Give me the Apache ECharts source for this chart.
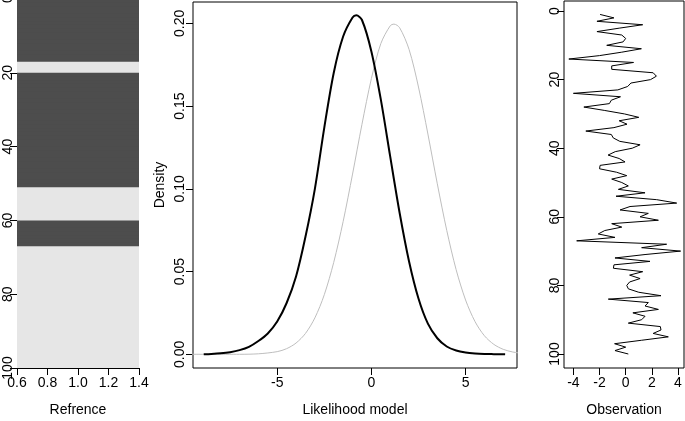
<!DOCTYPE html>
<html>
<head>
<meta charset="utf-8">
<script src="https://cdn.jsdelivr.net/npm/echarts@6/dist/echarts.min.js"></script>
<style>
html,body{margin:0;padding:0;background:#fff;}
#chart{width:685px;height:421px;}
</style>
</head>
<body>
<div id="chart"></div>
<script>
// ---- Panel 1: reference states (1 = dark, 0 = light), rows 1..100
const refStates = [
1,1,1,1,1,1,1,1,1,1,1,1,1,1,1,1,1,
0,0,0,
1,1,1,1,1,1,1,1,1,1,1,1,1,1,1,1,1,1,1,1,1,1,1,1,1,1,1,1,1,1,1,
0,0,0,0,0,0,0,0,0,
1,1,1,1,1,1,1,
0,0,0,0,0,0,0,0,0,0,0,0,0,0,0,0,0,0,0,0,0,0,0,0,0,0,0,0,0,0,0,0,0
];
const refColors = ['#E6E6E6', '#4D4D4D'];

// ---- Panel 2: density curves (likelihood model)
const blackX = [-8.9,-8.5,-8,-7.5,-7,-6.5,-6,-5.5,-5,-4.5,-4,-3.5,-3,-2.5,-2,-1.5,-1,-0.8,-0.5,0,0.5,1,1.5,2,2.5,3,3.5,4,4.5,5,5.5,6,6.5,7.1];
const blackY = [0.0000,0.0002,0.0006,0.0013,0.0025,0.0045,0.0080,0.0126,0.0198,0.0310,0.0470,0.0710,0.1000,0.1370,0.1700,0.1920,0.2035,0.2048,0.2020,0.1830,0.1540,0.1194,0.0854,0.0561,0.0337,0.0185,0.0097,0.0047,0.0023,0.0011,0.0005,0.0002,0.0001,0.0000];
const grayX = [-9.6,-7,-6,-5,-4.5,-4,-3.5,-3,-2.5,-2,-1.5,-1,-0.5,0,0.5,1,1.2,1.5,2,2.5,3,3.5,4,4.5,5,5.5,6,6.5,7,7.5,8];
const grayY = [0.0000,0.0000,0.0003,0.0016,0.0034,0.0068,0.0126,0.0220,0.0360,0.0555,0.0802,0.1089,0.1390,0.1666,0.1877,0.1985,0.1995,0.1973,0.1842,0.1615,0.1331,0.1030,0.0749,0.0511,0.0328,0.0198,0.0112,0.0060,0.0030,0.0014,0.0006];
const densityTicks = [0, 0.05, 0.10, 0.15, 0.20];
const likelihoodTicks = [-5, 0, 5];

// ---- Panel 3: observations, rows 1..100
const obsValues = [
-1.96,-0.9,-2.2,1.3,-0.5,-2.2,-0.3,0.0,-0.2,-1.45,
1.2,-0.3,-2.0,-4.35,0.6,-1.07,-1.07,2.1,2.35,1.9,
0.4,0.15,-0.6,-4.0,-0.4,-1.1,-1.25,-3.2,-1.6,-0.1,
1.0,-0.5,0.1,-0.9,-3.05,-1.1,-0.95,-0.45,1.1,0.5,
-0.8,-1.35,-0.5,-0.05,-1.96,-2.0,-0.7,0.08,-1.07,-0.3,
0.2,-0.56,1.48,-0.74,2.37,3.9,0.33,-0.43,1.73,1.1,
2.5,-1.07,-0.3,-1.6,-2.1,-0.82,-3.75,3.13,1.22,4.2,
1.48,-0.82,1.86,-0.9,-0.94,1.3,0.3,1.1,0.3,0.08,
0.2,1.0,2.7,-1.33,1.73,1.48,2.5,0.55,1.48,1.22,
0.2,2.65,2.7,2.1,3.26,1.2,-0.85,0.0,-0.82,0.2
];
const obsTicksX = [-4, -2, 0, 2, 4];
const obsTicksY = [0, 20, 40, 60, 80, 100];

// ---- build
const FONT = 'Liberation Sans, Arial, Helvetica, sans-serif';
const txt = {color: '#000', fontFamily: FONT, fontSize: 14};
const lineStyle = {color: '#000', width: 1};
const tick = {show: true, inside: false, length: 7, lineStyle: lineStyle};
const noLine = {show: false, onZero: false};
const axLine = {show: true, onZero: false, lineStyle: lineStyle};

const refData = refStates.map((s, k) => [0.6, 1.4, k, k + 1, s]);
const blackData = blackX.map((x, k) => [x, blackY[k]]);
const grayData = grayX.map((x, k) => [x, grayY[k]]);
const obsData = obsValues.map((v, k) => [v, k + 1]);

const option = {
  animation: false,
  backgroundColor: '#fff',
  grid: [
    {left: 17, top: -1, width: 122, height: 369, outerBoundsMode: 'none', containLabel: false},
    {left: 193, top: 2, width: 324, height: 366, outerBoundsMode: 'none', containLabel: false,
     show: true, borderColor: '#000', borderWidth: 1, backgroundColor: 'transparent'},
    {left: 564, top: 1, width: 120, height: 367, outerBoundsMode: 'none', containLabel: false,
     show: true, borderColor: '#000', borderWidth: 1, backgroundColor: 'transparent'}
  ],
  xAxis: [
    {gridIndex: 0, type: 'value', min: 0.6, max: 1.4, interval: 0.2,
     axisLine: axLine, axisTick: tick, splitLine: {show: false},
     axisLabel: Object.assign({margin: 8, formatter: v => v.toFixed(1)}, txt),
     name: 'Refrence', nameLocation: 'middle', nameGap: 35, nameTextStyle: txt},
    {gridIndex: 1, type: 'value', min: -9.47, max: 7.73,
     axisLine: noLine, axisTick: Object.assign({customValues: likelihoodTicks}, tick), splitLine: {show: false},
     axisLabel: Object.assign({margin: 8, customValues: likelihoodTicks, formatter: v => String(v)}, txt),
     name: 'Likelihood model', nameLocation: 'middle', nameGap: 35, nameTextStyle: txt},
    {gridIndex: 2, type: 'value', min: -4.72, max: 4.46,
     axisLine: noLine, axisTick: Object.assign({customValues: obsTicksX}, tick), splitLine: {show: false},
     axisLabel: Object.assign({margin: 8, customValues: obsTicksX, formatter: v => String(v)}, txt),
     name: 'Observation', nameLocation: 'middle', nameGap: 35, nameTextStyle: txt}
  ],
  yAxis: [
    {gridIndex: 0, type: 'value', min: 0, max: 100, interval: 20, inverse: true,
     axisLine: axLine, axisTick: tick, splitLine: {show: false},
     axisLabel: Object.assign({margin: 2, rotate: 90}, txt)},
    {gridIndex: 1, type: 'value', min: -0.00828, max: 0.21287,
     axisLine: noLine, axisTick: Object.assign({customValues: densityTicks}, tick), splitLine: {show: false},
     axisLabel: Object.assign({margin: 6, rotate: 90, customValues: densityTicks, formatter: v => v.toFixed(2)}, txt),
     name: 'Density', nameLocation: 'middle', nameGap: 26, nameRotate: 90, nameTextStyle: txt},
    {gridIndex: 2, type: 'value', min: -2.92, max: 104.08, inverse: true,
     axisLine: noLine, axisTick: Object.assign({customValues: obsTicksY}, tick), splitLine: {show: false},
     axisLabel: Object.assign({margin: 2, rotate: 90, customValues: obsTicksY, formatter: v => String(v)}, txt)}
  ],
  series: [
    {type: 'custom', xAxisIndex: 0, yAxisIndex: 0, data: refData,
     encode: {x: [0, 1], y: [2, 3]}, z: 1,
     renderItem: function (params, api) {
       const p1 = api.coord([api.value(0), api.value(2)]);
       const p2 = api.coord([api.value(1), api.value(3)]);
       const c = refColors[api.value(4)];
       const last = api.value(3) >= refStates.length;
       return {type: 'rect',
               shape: {x: p1[0], y: p1[1], width: p2[0] - p1[0], height: p2[1] - p1[1] + (last ? 0 : 0.8)},
               style: {fill: c}};
     }},
    {type: 'line', xAxisIndex: 1, yAxisIndex: 1, data: grayData, smooth: 0.3, symbol: 'none',
     lineStyle: {color: '#BEBEBE', width: 1}, clip: true, z: 2},
    {type: 'line', xAxisIndex: 1, yAxisIndex: 1, data: blackData, smooth: 0.3, symbol: 'none',
     lineStyle: {color: '#000', width: 2}, clip: true, z: 3},
    {type: 'line', xAxisIndex: 2, yAxisIndex: 2, data: obsData, smooth: false, symbol: 'none',
     lineStyle: {color: '#000', width: 1}, clip: true}
  ]
};
const chart = echarts.init(document.getElementById('chart'), null, {renderer: 'canvas'});
chart.setOption(option);
</script>
</body>
</html>
